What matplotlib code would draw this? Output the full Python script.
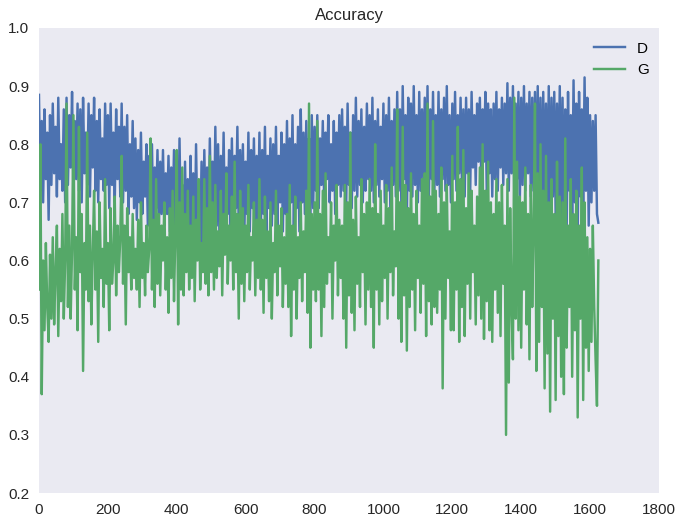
import numpy as np
import matplotlib
matplotlib.use("Agg")
import matplotlib.pyplot as plt

# accuracy values, one every 4 iterations
step = 4

d_acc = [
    0.885, 0.72, 0.84, 0.70, 0.86, 0.74, 0.82, 0.67, 0.85, 0.73,
    0.87, 0.75, 0.83, 0.71, 0.88, 0.74, 0.80, 0.72, 0.86, 0.70,
    0.88, 0.73, 0.85, 0.76, 0.89, 0.71, 0.84, 0.74, 0.87, 0.72,
    0.86, 0.70, 0.88, 0.75, 0.82, 0.73, 0.87, 0.71, 0.85, 0.76,
    0.88, 0.72, 0.84, 0.70, 0.86, 0.74, 0.81, 0.72, 0.87, 0.73,
    0.85, 0.69, 0.87, 0.73, 0.82, 0.70, 0.86, 0.74, 0.83, 0.71,
    0.87, 0.70, 0.83, 0.72, 0.85, 0.68, 0.80, 0.71, 0.84, 0.69,
    0.81, 0.67, 0.79, 0.70, 0.82, 0.68, 0.77, 0.71, 0.80, 0.66,
    0.78, 0.68, 0.80, 0.65, 0.76, 0.69, 0.79, 0.66, 0.77, 0.68,
    0.79, 0.66, 0.75, 0.68, 0.78, 0.65, 0.76, 0.67, 0.79, 0.64,
    0.76, 0.62, 0.81, 0.65, 0.73, 0.60, 0.77, 0.63, 0.74, 0.59,
    0.78, 0.64, 0.75, 0.61, 0.80, 0.65, 0.72, 0.63, 0.77, 0.62,
    0.79, 0.66, 0.76, 0.64, 0.81, 0.68, 0.77, 0.65, 0.83, 0.66,
    0.80, 0.64, 0.78, 0.67, 0.82, 0.65, 0.76, 0.68, 0.79, 0.64,
    0.81, 0.66, 0.78, 0.69, 0.83, 0.65, 0.79, 0.67, 0.80, 0.64,
    0.77, 0.68, 0.82, 0.65, 0.79, 0.69, 0.81, 0.66, 0.78, 0.67,
    0.82, 0.65, 0.79, 0.68, 0.83, 0.64, 0.78, 0.69, 0.81, 0.66,
    0.80, 0.68, 0.83, 0.66, 0.78, 0.70, 0.82, 0.65, 0.80, 0.68,
    0.84, 0.67, 0.81, 0.70, 0.85, 0.66, 0.80, 0.69, 0.83, 0.65,
    0.86, 0.70, 0.82, 0.68, 0.84, 0.71, 0.81, 0.67, 0.85, 0.69,
    0.83, 0.72, 0.85, 0.69, 0.81, 0.73, 0.84, 0.70, 0.82, 0.74,
    0.85, 0.70, 0.80, 0.72, 0.84, 0.68, 0.82, 0.73, 0.85, 0.71,
    0.86, 0.72, 0.83, 0.70, 0.87, 0.73, 0.82, 0.69, 0.85, 0.72,
    0.88, 0.71, 0.84, 0.73, 0.86, 0.70, 0.83, 0.72, 0.87, 0.74,
    0.85, 0.72, 0.88, 0.70, 0.84, 0.73, 0.86, 0.71, 0.83, 0.74,
    0.87, 0.70, 0.85, 0.72, 0.88, 0.69, 0.84, 0.73, 0.86, 0.71,
    0.89, 0.72, 0.86, 0.70, 0.90, 0.74, 0.85, 0.67, 0.88, 0.72,
    0.87, 0.71, 0.90, 0.73, 0.85, 0.70, 0.89, 0.72, 0.86, 0.74,
    0.88, 0.73, 0.90, 0.71, 0.86, 0.74, 0.89, 0.72, 0.85, 0.73,
    0.89, 0.71, 0.86, 0.74, 0.88, 0.72, 0.90, 0.73, 0.85, 0.70,
    0.87, 0.74, 0.89, 0.72, 0.85, 0.75, 0.88, 0.73, 0.86, 0.71,
    0.88, 0.75, 0.86, 0.72, 0.89, 0.76, 0.85, 0.73, 0.87, 0.77,
    0.88, 0.74, 0.86, 0.77, 0.89, 0.72, 0.87, 0.75, 0.86, 0.71,
    0.87, 0.74, 0.89, 0.72, 0.86, 0.76, 0.88, 0.73, 0.87, 0.75,
    0.905, 0.72, 0.88, 0.75, 0.90, 0.71, 0.87, 0.74, 0.89, 0.70,
    0.88, 0.73, 0.90, 0.72, 0.87, 0.75, 0.89, 0.71, 0.88, 0.72,
    0.89, 0.69, 0.90, 0.71, 0.88, 0.66, 0.89, 0.70, 0.87, 0.68,
    0.90, 0.67, 0.88, 0.71, 0.89, 0.68, 0.87, 0.70, 0.90, 0.66,
    0.88, 0.70, 0.86, 0.65, 0.89, 0.72, 0.85, 0.68, 0.91, 0.70,
    0.87, 0.64, 0.89, 0.71, 0.86, 0.69, 0.915, 0.72, 0.88, 0.66,
    0.85, 0.70, 0.84, 0.72, 0.85, 0.68, 0.665,
]

g_acc = [
    0.55, 0.80, 0.37, 0.60, 0.48, 0.63, 0.52, 0.46, 0.61, 0.50,
    0.64, 0.49, 0.58, 0.66, 0.47, 0.62, 0.53, 0.68, 0.50, 0.60,
    0.87, 0.52, 0.66, 0.50, 0.62, 0.85, 0.55, 0.64, 0.48, 0.83,
    0.58, 0.68, 0.41, 0.63, 0.55, 0.82, 0.53, 0.66, 0.49, 0.61,
    0.72, 0.55, 0.65, 0.46, 0.70, 0.57, 0.62, 0.52, 0.74, 0.56,
    0.63, 0.48, 0.69, 0.56, 0.60, 0.71, 0.54, 0.66, 0.58, 0.64,
    0.78, 0.56, 0.66, 0.49, 0.69, 0.58, 0.64, 0.55, 0.68, 0.57,
    0.62, 0.55, 0.67, 0.52, 0.70, 0.57, 0.63, 0.54, 0.66, 0.58,
    0.62, 0.81, 0.55, 0.67, 0.52, 0.74, 0.56, 0.68, 0.54, 0.66,
    0.60, 0.70, 0.55, 0.64, 0.51, 0.69, 0.57, 0.72, 0.53, 0.65,
    0.79, 0.49, 0.70, 0.55, 0.76, 0.54, 0.68, 0.58, 0.72, 0.55,
    0.66, 0.57, 0.71, 0.53, 0.67, 0.60, 0.74, 0.55, 0.63, 0.58,
    0.74, 0.56, 0.69, 0.54, 0.78, 0.58, 0.70, 0.55, 0.73, 0.57,
    0.65, 0.59, 0.72, 0.54, 0.68, 0.61, 0.75, 0.56, 0.66, 0.60,
    0.71, 0.55, 0.77, 0.58, 0.68, 0.50, 0.72, 0.56, 0.69, 0.53,
    0.66, 0.58, 0.73, 0.55, 0.64, 0.60, 0.70, 0.54, 0.67, 0.57,
    0.74, 0.55, 0.67, 0.51, 0.71, 0.57, 0.65, 0.53, 0.70, 0.50,
    0.63, 0.58, 0.72, 0.54, 0.66, 0.59, 0.69, 0.52, 0.64, 0.56,
    0.68, 0.52, 0.73, 0.47, 0.66, 0.55, 0.71, 0.50, 0.64, 0.57,
    0.70, 0.53, 0.65, 0.58, 0.72, 0.51, 0.87, 0.45, 0.68, 0.55,
    0.70, 0.53, 0.84, 0.55, 0.68, 0.47, 0.72, 0.52, 0.75, 0.56,
    0.64, 0.58, 0.70, 0.50, 0.66, 0.60, 0.73, 0.54, 0.67, 0.57,
    0.66, 0.50, 0.73, 0.45, 0.70, 0.54, 0.82, 0.51, 0.67, 0.48,
    0.71, 0.56, 0.64, 0.52, 0.74, 0.58, 0.68, 0.49, 0.70, 0.55,
    0.74, 0.52, 0.69, 0.45, 0.80, 0.55, 0.68, 0.49, 0.72, 0.53,
    0.66, 0.57, 0.73, 0.50, 0.69, 0.58, 0.76, 0.54, 0.65, 0.59,
    0.86, 0.50, 0.70, 0.46, 0.83, 0.54, 0.73, 0.445, 0.69, 0.52,
    0.75, 0.55, 0.68, 0.48, 0.72, 0.57, 0.66, 0.51, 0.74, 0.56,
    0.75, 0.47, 0.87, 0.53, 0.71, 0.49, 0.84, 0.52, 0.72, 0.51,
    0.68, 0.55, 0.76, 0.38, 0.70, 0.50, 0.73, 0.57, 0.65, 0.48,
    0.78, 0.48, 0.70, 0.55, 0.83, 0.46, 0.74, 0.52, 0.79, 0.47,
    0.69, 0.56, 0.75, 0.50, 0.72, 0.58, 0.66, 0.49, 0.71, 0.54,
    0.76, 0.50, 0.80, 0.465, 0.72, 0.53, 0.77, 0.48, 0.70, 0.46,
    0.68, 0.55, 0.74, 0.51, 0.70, 0.47, 0.73, 0.56, 0.66, 0.30,
    0.74, 0.39, 0.69, 0.52, 0.43, 0.88, 0.50, 0.77, 0.48, 0.71,
    0.45, 0.70, 0.55, 0.76, 0.49, 0.68, 0.43, 0.73, 0.52, 0.66,
    0.87, 0.41, 0.75, 0.46, 0.80, 0.52, 0.72, 0.38, 0.78, 0.44,
    0.70, 0.34, 0.74, 0.50, 0.68, 0.36, 0.77, 0.47, 0.71, 0.40,
    0.70, 0.37, 0.81, 0.45, 0.66, 0.52, 0.74, 0.40, 0.68, 0.48,
    0.72, 0.33, 0.66, 0.50, 0.76, 0.36, 0.70, 0.45, 0.64, 0.41,
    0.62, 0.46, 0.66, 0.52, 0.43, 0.35, 0.60,
]

x_ticks = [0, 200, 400, 600, 800, 1000, 1200, 1400, 1600, 1800]
y_ticks = [0.2, 0.3, 0.4, 0.5, 0.6, 0.7, 0.8, 0.9, 1.0]


def main():
    plt.rcParams['font.family'] = ['Liberation Sans', 'DejaVu Sans']
    fig = plt.figure(figsize=(6.84, 5.27), dpi=100)
    ax = fig.add_axes([0.057, 0.0645, 0.9064, 0.8824])
    ax.set_facecolor('#EAEAF2')

    iters = np.arange(len(d_acc)) * step
    ax.plot(iters, d_acc, color='#4C72B0', lw=1.75, label='D')
    ax.plot(np.arange(len(g_acc)) * step, g_acc, color='#55A868', lw=1.75, label='G')

    ax.set_xlim(0, 1800)
    ax.set_ylim(0.2, 1.0)
    ax.set_xticks(x_ticks)
    ax.set_yticks(y_ticks)
    ax.set_yticklabels([f"{v:.1f}" for v in y_ticks])
    ax.tick_params(length=0, labelsize=11, colors='#262626', pad=7)
    for s in ax.spines.values():
        s.set_visible(False)
    ax.set_title('Accuracy', fontsize=12, color='#262626', pad=6)
    ax.legend(loc='upper right', bbox_to_anchor=(1.006, 1.0), frameon=False,
              fontsize=11, handlelength=2.0, handletextpad=0.8, borderaxespad=0.5)
    fig.savefig('out.png', dpi=100, facecolor='white')
    plt.close(fig)


if __name__ == '__main__':
    main()
